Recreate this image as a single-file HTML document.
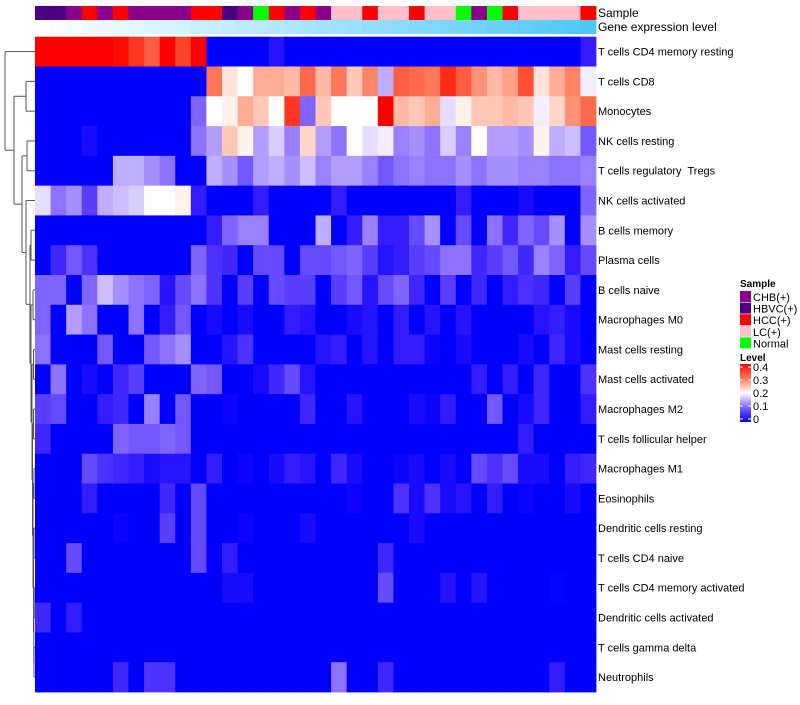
<!DOCTYPE html>
<html><head><meta charset="utf-8"><style>
body{margin:0;background:#fff;}
svg text{font-family:"Liberation Sans",Arial,sans-serif;white-space:pre;}
</style></head><body>
<svg id="chart" width="800" height="700" xmlns="http://www.w3.org/2000/svg">
<rect width="800" height="700" fill="#fff"/>
<g id="dendro"></g>
<g id="sampleBar"></g>
<g id="geneBar"></g>
<g id="cells"></g>
<g id="rowLabels"></g>
<text x="598" y="17" font-size="12">Sample</text>
<text x="598" y="31" font-size="12">Gene expression level</text>
<g id="legend">
<text x="740" y="287" font-size="10" font-weight="bold">Sample</text>
<g id="sampleLegend"></g>
<text x="740" y="361" font-size="10" font-weight="bold">Level</text>
<defs><linearGradient id="lvl" x1="0" y1="1" x2="0" y2="0">
<stop offset="0" stop-color="#0000ff"/><stop offset="0.25" stop-color="#8060ff"/><stop offset="0.5" stop-color="#ffffff"/><stop offset="0.75" stop-color="#ff7b5a"/><stop offset="1" stop-color="#ff0000"/></linearGradient></defs>
<rect x="740" y="364" width="11" height="58" fill="url(#lvl)"/>
<g id="levelTicks"></g>
</g>
</svg>
<script>
const rowNames=["T cells CD4 memory resting","T cells CD8","Monocytes","NK cells resting","T cells regulatory  Tregs","NK cells activated","B cells memory","Plasma cells","B cells naive","Macrophages M0","Mast cells resting","Mast cells activated","Macrophages M2","T cells follicular helper","Macrophages M1","Eosinophils","Dendritic cells resting","T cells CD4 naive","T cells CD4 memory activated","Dendritic cells activated","T cells gamma delta","Neutrophils"];
const sampleGroups=["HBVC","HBVC","CHB","HCC","CHB","HCC","CHB","CHB","CHB","CHB","HCC","HCC","HBVC","CHB","Normal","HCC","CHB","HCC","CHB","LC","LC","HCC","LC","LC","HCC","LC","LC","Normal","CHB","Normal","HCC","LC","LC","LC","LC","HCC"];
const geneLevel=[0,1,2,3,4,5,6,7,8,9,10,11,12,13,14,15,16,17,18,19,20,21,22,23,24,25,26,27,28,29,30,31,32,33,34,35];
const legendNames=["CHB(+)","HBVC(+)","HCC(+)","LC(+)","Normal"];
const legendKeys=["CHB","HBVC","HCC","LC","Normal"];
const levelTicks=[0.4,0.3,0.2,0.1,0];
const r1=[.4,.4,.4,.4,.4,.39,.35,.32,.4,.34,.4,0,0,0,0,.03,0,0,0,0,0,0,0,0,0,0,0,0,0,0,0,0,0,0,0,.04];
const r2=[0,0,0,0,0,0,0,0,0,0,0,.3,.22,.2,.26,.26,.25,.31,.25,.3,.24,.29,.15,.32,.31,.3,.36,.32,.28,.25,.27,.33,.22,.26,.29,.19];
const r3=[0,0,0,0,0,0,0,0,0,0,.1,.2,.21,.26,.24,.2,.35,.1,.24,.2,.2,.2,.4,.25,.24,.26,.18,.21,.24,.24,.25,.24,.19,.23,.28,.31];
const r4=[0,0,0,.02,0,0,0,0,0,0,.11,.14,.24,.21,.14,.17,.12,.23,.14,.11,.2,.18,.19,.12,.13,.11,.17,.12,.2,.14,.14,.13,.21,.15,.16,.09];
const r5=[0,0,0,0,0,.15,.15,.13,.11,0,0,.15,.13,.09,.14,.15,.13,.16,.12,.14,.14,.12,.09,.11,.12,.11,.11,.13,.11,.13,.13,.12,.12,.11,.11,.12];
const r6=[.18,.11,.13,.07,.15,.16,.17,.2,.2,.21,.04,0,0,0,.04,0,0,0,0,.04,0,0,0,0,0,0,0,.04,0,0,0,.02,0,0,0,.1];
const r7=[0,0,0,0,0,0,0,0,0,0,0,.04,.1,.12,.12,0,0,0,.15,0,.04,.12,.04,.04,.08,.13,0,.08,0,.11,.05,.1,.08,.13,0,.13];
const r8=[0,.05,.09,.06,0,0,0,0,0,0,.1,.06,.05,0,.08,.08,0,.08,.08,.09,.1,.07,.03,.04,.07,.08,.11,.11,.05,.07,.09,.05,.12,.1,.04,.08];
const r9=[.1,.1,0,.1,.16,.13,.11,.1,.03,.08,.11,.06,0,.07,0,.08,.07,.07,0,.07,.09,.03,.08,.1,.05,0,.07,0,.05,0,.04,.06,.05,0,.07,0];
const r10=[.1,0,.14,.11,0,0,.11,0,.04,.09,0,.02,0,.02,0,0,.04,.03,0,0,.02,.03,0,.04,0,.03,0,.03,0,0,0,0,.03,.04,.02,0];
const r11=[.11,0,0,0,.09,0,0,.09,.11,.13,0,0,.03,.06,0,0,0,0,.03,.04,0,.03,0,.04,.04,.01,0,.02,0,0,0,.02,0,.05,.02,0];
const r12=[0,.11,0,.02,0,.05,.07,0,0,0,.1,.09,0,0,.02,.05,.08,.03,0,0,0,0,0,0,0,0,0,0,.04,0,.04,0,.05,0,0,.06];
const r13=[.07,.08,0,0,.04,.05,0,.12,0,.09,0,0,.01,0,0,0,0,.05,0,0,.03,0,0,0,.02,.01,.04,0,0,.09,0,.02,.05,0,0,.04];
const r14=[.05,0,0,0,0,.1,.09,.09,.1,.09,0,0,0,0,0,0,0,0,0,0,0,0,0,0,0,0,0,0,0,0,0,.04,0,0,0,0];
const r15=[0,0,0,.08,.06,.05,.04,.02,.03,.03,0,.04,0,.01,0,.02,.04,.03,0,.05,.02,0,0,.01,.02,0,.02,0,.08,.06,.08,.02,.02,0,.04,.05];
const r16=[0,0,0,.04,0,0,0,0,.05,0,.08,0,0,0,0,0,0,0,0,0,.01,0,0,.06,.02,.06,.02,.03,0,.04,0,.01,0,0,.02,0];
const r17=[0,0,0,0,0,.01,0,0,.07,0,.08,0,0,.01,0,0,0,.02,0,0,0,0,0,0,.02,0,0,0,0,0,0,0,0,0,0,0];
const r18=[0,0,.08,0,0,0,0,0,0,0,.08,0,.04,0,0,0,0,0,0,0,0,0,.05,0,0,0,0,0,0,0,0,0,0,0,0,0];
const r19=[0,0,0,0,0,0,0,0,0,0,0,0,.02,.02,0,0,0,0,0,0,0,0,.08,0,0,0,.03,0,.03,0,0,0,0,.005,0,0];
const r20=[.05,0,.04,0,0,0,0,0,0,0,0,0,0,0,0,0,0,0,0,0,0,0,0,0,0,0,0,0,0,0,0,0,0,0,0,0];
const r21=[0,0,0,0,0,0,0,0,0,0,0,0,0,0,0,0,0,0,0,0,0,0,0,0,0,0,0,0,0,0,0,0,0,0,0,0];
const r22=[0,0,0,0,0,.05,0,.06,.06,0,0,0,0,0,0,0,0,0,0,.11,0,0,.05,0,0,0,0,0,0,0,0,0,0,.04,0,0];
const values=[r1,r2,r3,r4,r5,r6,r7,r8,r9,r10,r11,r12,r13,r14,r15,r16,r17,r18,r19,r20,r21,r22];

const NS="http://www.w3.org/2000/svg";
const X0=35,X1=596,Y0=36.7,Y1=692;
const nCol=sampleGroups.length,nRow=rowNames.length;
const cw=(X1-X0)/nCol,rh=(Y1-Y0)/nRow;
const xs=i=>X0+i*cw, ys=j=>Y0+j*rh;
const groupColor={CHB:"#8b008b",HBVC:"#4b0082",HCC:"#ff0000",LC:"#ffc0cb",Normal:"#00ff00"};
function heat(v){let r,g,b;if(v<=0.2){const s=v/0.2;r=Math.round(255*s);g=Math.round(255*Math.pow(s,1.35));b=255;}else{const t=Math.min(1,(v-0.2)/0.2);r=255;g=Math.round(255*Math.pow(1-t,1.1));b=Math.round(255*Math.pow(1-t,1.5));}return `rgb(${r},${g},${b})`;}
function gene(v){const mx=geneLevel[geneLevel.length-1]||1;const t=v/mx;return `rgb(${Math.round(255-(255-78)*t)},${Math.round(255-(255-200)*t)},${Math.round(255-(255-247)*t)})`;}
function mk(tag,attrs,parent){const e=document.createElementNS(NS,tag);for(const k in attrs)e.setAttribute(k,attrs[k]);parent.appendChild(e);return e;}

const sb=document.getElementById('sampleBar');
sampleGroups.forEach((g,i)=>{const e=mk('rect',{x:xs(i),y:6,width:cw+0.4,height:14,fill:groupColor[g]},sb);

});
const gb=document.getElementById('geneBar');
geneLevel.forEach((v,i)=>{const e=mk('rect',{x:xs(i),y:20,width:cw+0.4,height:14,fill:gene(v)},gb);

});
const cg=document.getElementById('cells');
values.forEach((row,j)=>row.forEach((v,i)=>{const e=mk('rect',{x:xs(i),y:ys(j),width:cw+0.4,height:rh+0.4,fill:heat(v)},cg);

}));
const rl=document.getElementById('rowLabels');
rowNames.forEach((n,j)=>{const t=mk('text',{x:598,y:ys(j)+rh/2+4,'font-size':11,fill:'#000'},rl);t.textContent=n;

});
const sl=document.getElementById('sampleLegend');
legendKeys.forEach((k,i)=>{const y=291+i*11.6;const r=mk('rect',{x:740,y:y,width:11,height:11,fill:groupColor[k]},sl);


const t=mk('text',{x:753,y:y+10,'font-size':11},sl);t.textContent=legendNames[i];

});
const lt=document.getElementById('levelTicks');
levelTicks.forEach(v=>{const y=419-(v/0.4)*52;mk('line',{x1:740,x2:743,y1:y,y2:y,stroke:'#fff'},lt);mk('line',{x1:748,x2:751,y1:y,y2:y,stroke:'#fff'},lt);
const t=mk('text',{x:753,y:y+4,'font-size':11},lt);t.textContent=String(v);

});

const tree=[5,0,[14,[26,1,2],[22,[27,3,4],[26,5,[30,[31,6,7],[31,[33,8,9],[32,[33.5,10,11],[32.5,[33.5,12,13],[33,[34,14,15],[33.5,[34,16,17],[33.8,[34.2,18,19],[34,20,21]]]]]]]]]]]];
const dg=document.getElementById('dendro');
function pos(n){if(typeof n==='number')return{x:X0,y:ys(n)+rh/2};const a=pos(n[1]),b=pos(n[2]),h=n[0];
[a,b].forEach(c=>mk('line',{x1:h,x2:c.x,y1:c.y,y2:c.y,stroke:'#555','stroke-width':1},dg));
mk('line',{x1:h,x2:h,y1:a.y,y2:b.y,stroke:'#555','stroke-width':1},dg);return{x:h,y:(a.y+b.y)/2};}
pos(tree);
</script>
</body></html>
